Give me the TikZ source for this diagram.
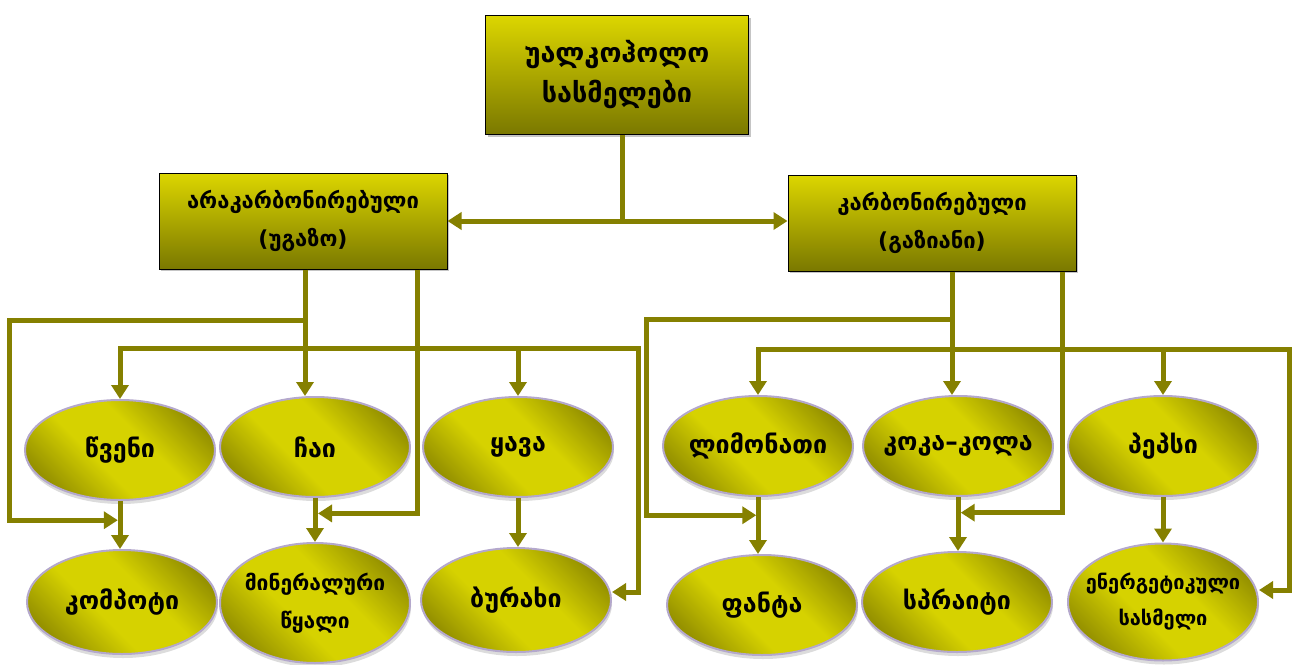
\documentclass[tikz,border=0pt]{standalone}
\usepackage{fontspec}
\setmainfont{DejaVu Sans}
\usetikzlibrary{positioning, arrows.meta, calc, shapes.geometric, shadows}

\definecolor{wirecol}{RGB}{133,128,0}
\definecolor{boxtop}{RGB}{220,214,0}
\definecolor{boxbot}{RGB}{122,120,0}
\definecolor{ovlight}{RGB}{214,210,0}
\definecolor{ovdark}{RGB}{150,146,0}
\definecolor{ovedge}{RGB}{180,168,204}

\pgfdeclarehorizontalshading{ovalshade}{100bp}{color(0bp)=(ovdark); color(25bp)=(ovdark); color(42bp)=(ovlight); color(58bp)=(ovlight); color(75bp)=(ovdark); color(100bp)=(ovdark)}

\begin{document}
\begin{tikzpicture}[
    x=1pt, y=-1pt,
    every node/.style={text=black},
    topbox/.style={draw=black, line width=1pt, top color=boxtop, bottom color=boxbot, align=center,
        minimum width=263pt, minimum height=119pt, font=\bfseries\fontsize{27}{40}\selectfont,
        drop shadow={shadow xshift=2pt, shadow yshift=-2pt, fill=black!45}},
    catbox/.style={topbox, minimum width=288pt, minimum height=96pt, font=\bfseries\fontsize{22}{38}\selectfont},
    drink/.style={ellipse, draw=ovedge, line width=2pt, shading=ovalshade, shading angle=45,
        minimum width=190pt, minimum height=100pt, inner xsep=-40pt, inner ysep=0pt, align=center,
        font=\bfseries\fontsize{25}{38}\selectfont,
        drop shadow={shadow xshift=1pt, shadow yshift=-4pt, fill=gray!55}},
    lnk/.style={draw=wirecol, line width=5pt},
    arr/.style={lnk, -{Triangle[length=14pt, width=17pt]}},
]
\useasboundingbox (0,0) rectangle (1292,664);

% ── Root and the two groups ──────────────────────────────────────────────────
\node[topbox] (root) at (617,75) {უალკოჰოლო\\სასმელები};
\node[catbox] (still) at (303,221) {არაკარბონირებული\\(უგაზო)};
\node[catbox] (fizzy) at (932,223) {კარბონირებული\\(გაზიანი)};

% ── Still drinks ─────────────────────────────────────────────────────────────
\node[drink] (juice)   at (120,450) {წვენი};
\node[drink] (tea)     at (315,447) {ჩაი};
\node[drink] (coffee)  at (518,447) {ყავა};
\node[drink, minimum height=104pt] (compote) at (122,602) {კომპოტი};
\node[drink, minimum height=120pt, font=\bfseries\fontsize{21}{38}\selectfont] (mineral) at (315,603) {მინერალური\\წყალი};
\node[drink, minimum height=104pt] (kvass)   at (516,600) {ბურახი};

% ── Fizzy drinks ─────────────────────────────────────────────────────────────
\node[drink] (lemonade) at (758,446) {ლიმონათი};
\node[drink] (cola)     at (958,446) {კოკა–კოლა};
\node[drink] (pepsi)    at (1163,446) {პეპსი};
\node[drink] (fanta)    at (762,605) {ფანტა};
\node[drink] (sprite)   at (957,602) {სპრაიტი};
\node[drink, minimum height=117pt, font=\bfseries\fontsize{20}{36}\selectfont] (energy) at (1163,602) {ენერგეტიკული\\სასმელი};

% ── Root split ───────────────────────────────────────────────────────────────
\coordinate (split) at ($([xshift=5pt]root.south)+(0,86)$);
\draw[lnk] ([xshift=5pt]root.south) -- (split);
\draw[arr] (split) -- (split -| still.east);
\draw[arr] (split) -- (split -| fizzy.west);

% ── Still group connectors ───────────────────────────────────────────────────
\coordinate (lt1) at ([xshift=2pt]still.south);
\coordinate (lt2) at ([xshift=-30pt]still.south east);
\coordinate (lloop) at ($(lt1)+(0,51)$);
\coordinate (lbus) at ($(lt1)+(0,79)$);
\coordinate (jmid) at ($(juice.south)!0.4!(compote.north)$);
\coordinate (tmid) at ($(tea.south)!0.35!(mineral.north)$);
\coordinate (kv) at ([yshift=8pt]kvass.east);

\draw[lnk] (lt1) -- (lbus);
\draw[arr] (lloop) -| ([xshift=-111pt]jmid) -- ([xshift=-3pt]jmid);
\draw[arr] (lbus) -| (juice.north);
\draw[arr] (lbus) -- (lbus |- tea.north);
\draw[arr] (lbus) -| (coffee.north);
\draw[arr] (lbus) -| ([xshift=26pt]kv) -- (kv);
\draw[arr] (lt2) |- ([xshift=3pt]tmid);
\draw[arr] (juice.south) -- (juice.south |- compote.north);
\draw[arr] (tea.south) -- (tea.south |- mineral.north);
\draw[arr] (coffee.south) -- (coffee.south |- kvass.north);

% ── Fizzy group connectors ───────────────────────────────────────────────────
\coordinate (rt1) at ([xshift=20pt]fizzy.south);
\coordinate (rt2) at ([xshift=-14pt]fizzy.south east);
\coordinate (rloop) at ($(rt1)+(0,48)$);
\coordinate (rbus) at ($(rt1)+(0,78)$);
\coordinate (lmid) at ($(lemonade.south)!0.32!(fanta.north)$);
\coordinate (cmid) at ($(cola.south)!0.29!(sprite.north)$);
\coordinate (en) at ([yshift=12pt]energy.east);

\draw[lnk] (rt1) -- (rbus);
\draw[arr] (rloop) -| ([xshift=-113pt]lmid) -- ([xshift=-3pt]lmid);
\draw[arr] (rbus) -| (lemonade.north);
\draw[arr] (rbus) -- (rbus |- cola.north);
\draw[arr] (rbus) -| (pepsi.north);
\draw[arr] (rbus) -| ([xshift=30pt]en) -- (en);
\draw[arr] (rt2) |- ([xshift=3pt]cmid);
\draw[arr] (lemonade.south) -- (lemonade.south |- fanta.north);
\draw[arr] (cola.south) -- (cola.south |- sprite.north);
\draw[arr] (pepsi.south) -- (pepsi.south |- energy.north);

\end{tikzpicture}
\end{document}
